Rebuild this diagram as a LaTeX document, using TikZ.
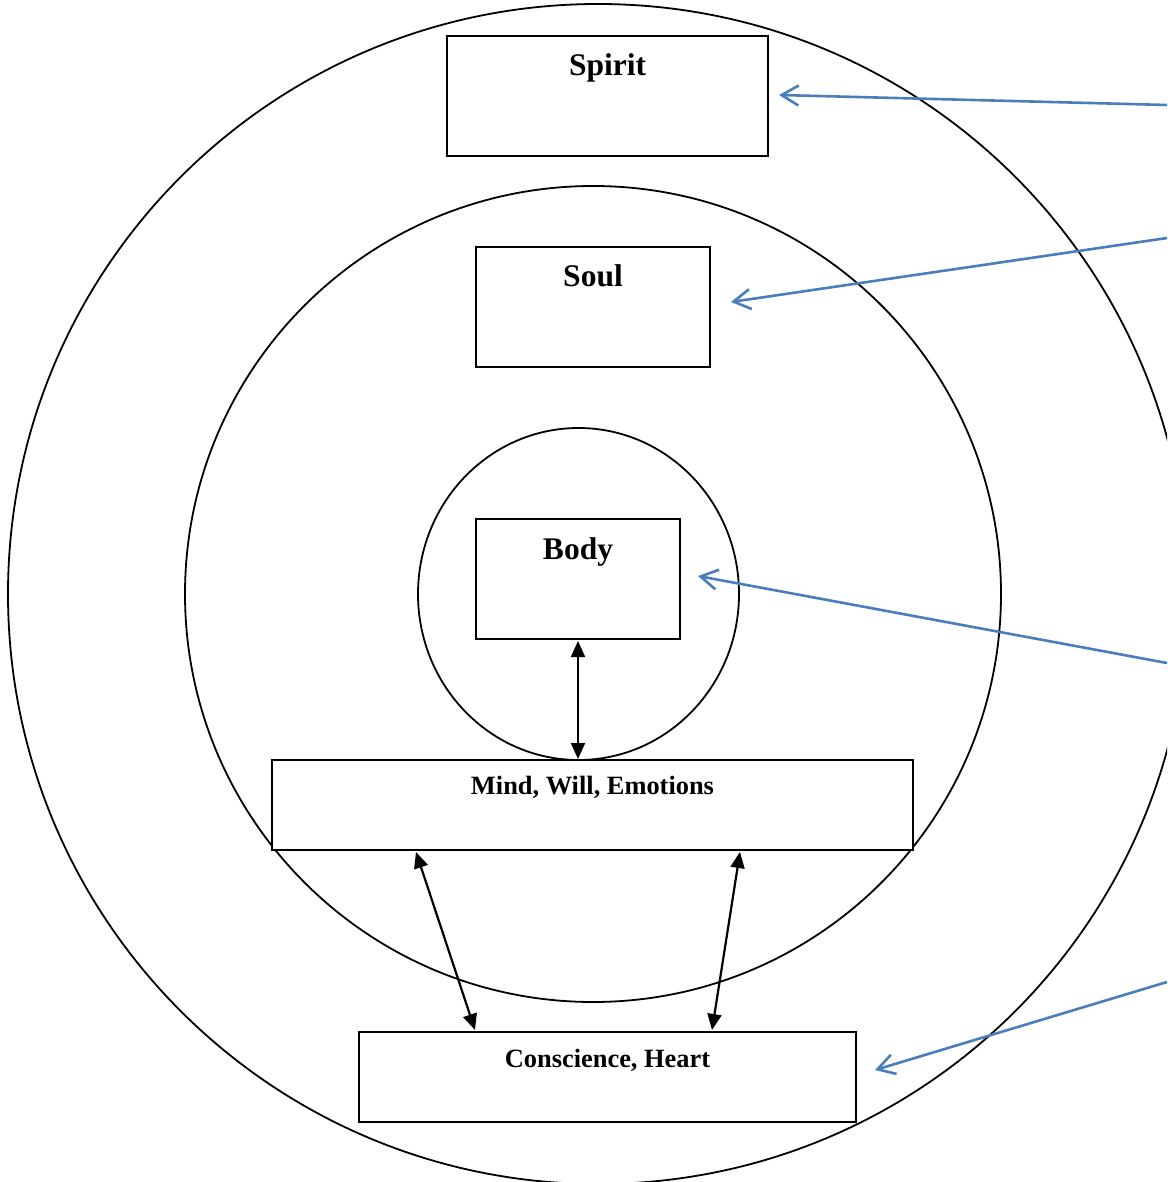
\documentclass[tikz,border=0pt]{standalone}
\usepackage{fontspec}
\setmainfont{Liberation Serif}
\usepackage{xcolor}
\definecolor{bleu}{RGB}{74,126,187}
\usetikzlibrary{arrows.meta}
\usetikzlibrary{calc}

\begin{document}
\begin{tikzpicture}[x=0.5pt, y=-0.5pt,
        cadre/.style={shape=rectangle, draw, fill=white, line width=1pt, inner sep=0pt},
        titre/.style={anchor=base, inner sep=0pt, font=\bfseries\fontsize{15.75}{18}\selectfont},
        soustitre/.style={anchor=base, inner sep=0pt, font=\bfseries\fontsize{13.2}{16}\selectfont},
        lien/.style={line width=1.1pt, {Triangle[length=8pt, width=7pt]}-{Triangle[length=8pt, width=7pt]}},
        renvoi/.style={draw=bleu, line width=1.3pt, -{Straight Barb[length=8.5pt, width=10pt]}}]
            \clip (0,0) rectangle (1167,1182);
            \fill[white] (0,0) rectangle (1167,1182);

            % les trois cercles
            \draw[line width=0.9pt] (598,594) circle (295pt);
            \draw[line width=0.9pt] (593,594) circle (204pt);
            \draw[line width=0.9pt] (578.5,594) ellipse (80.25pt and 83pt);

            % les cadres
            \node (spirit) [cadre, minimum width=160.5pt, minimum height=60pt] at (607.5,96) {};
            \node (soul)   [cadre, minimum width=117pt, minimum height=60pt] at (593,307) {};
            \node (body)   [cadre, minimum width=102pt, minimum height=60pt] at (578,579) {};
            \node (mind)   [cadre, minimum width=320.5pt, minimum height=45pt] at (592.5,805) {};
            \node (heart)  [cadre, minimum width=248.5pt, minimum height=45pt] at (607.5,1077) {};

            \node (spiritlbl) [titre] at ([yshift=-20.5pt]spirit.north) {Spirit};
            \node (soullbl)   [titre] at ([yshift=-20pt]soul.north) {Soul};
            \node (bodylbl)   [titre] at ([yshift=-20.5pt]body.north) {Body};
            \node (mindlbl)   [soustitre] at ([yshift=-17.5pt]mind.north) {Mind, Will, Emotions};
            \node (heartlbl)  [soustitre] at ([yshift=-18pt]heart.north) {Conscience, Heart};

            % liens entre les cadres
            \draw[lien] ([yshift=-0.5pt]body.south) -- (body.south |- mind.north);
            \draw[lien] ($(mind.south west)+(145,1)$) -- ($(heart.north west)+(117,-1)$);
            \draw[lien] ($(mind.south east)+(-174,1)$) -- ($(heart.north east)+(-145,-1)$);

            % renvois depuis la marge
            \coordinate (src1) at (1167,105);
            \coordinate (src2) at (1167,238);
            \coordinate (src3) at (1167,663);
            \coordinate (src4) at (1167,982);
            \draw[renvoi] (src1) -- ([shift={(5pt,0.5pt)}]spirit.east);
            \draw[renvoi] (src2) -- ([shift={(10pt,2.5pt)}]soul.east);
            \draw[renvoi] (src3) -- ([shift={(8.5pt,1.5pt)}]body.east);
            \draw[renvoi] (src4) -- ([shift={(9pt,3.5pt)}]heart.east);
        \end{tikzpicture}
\end{document}
